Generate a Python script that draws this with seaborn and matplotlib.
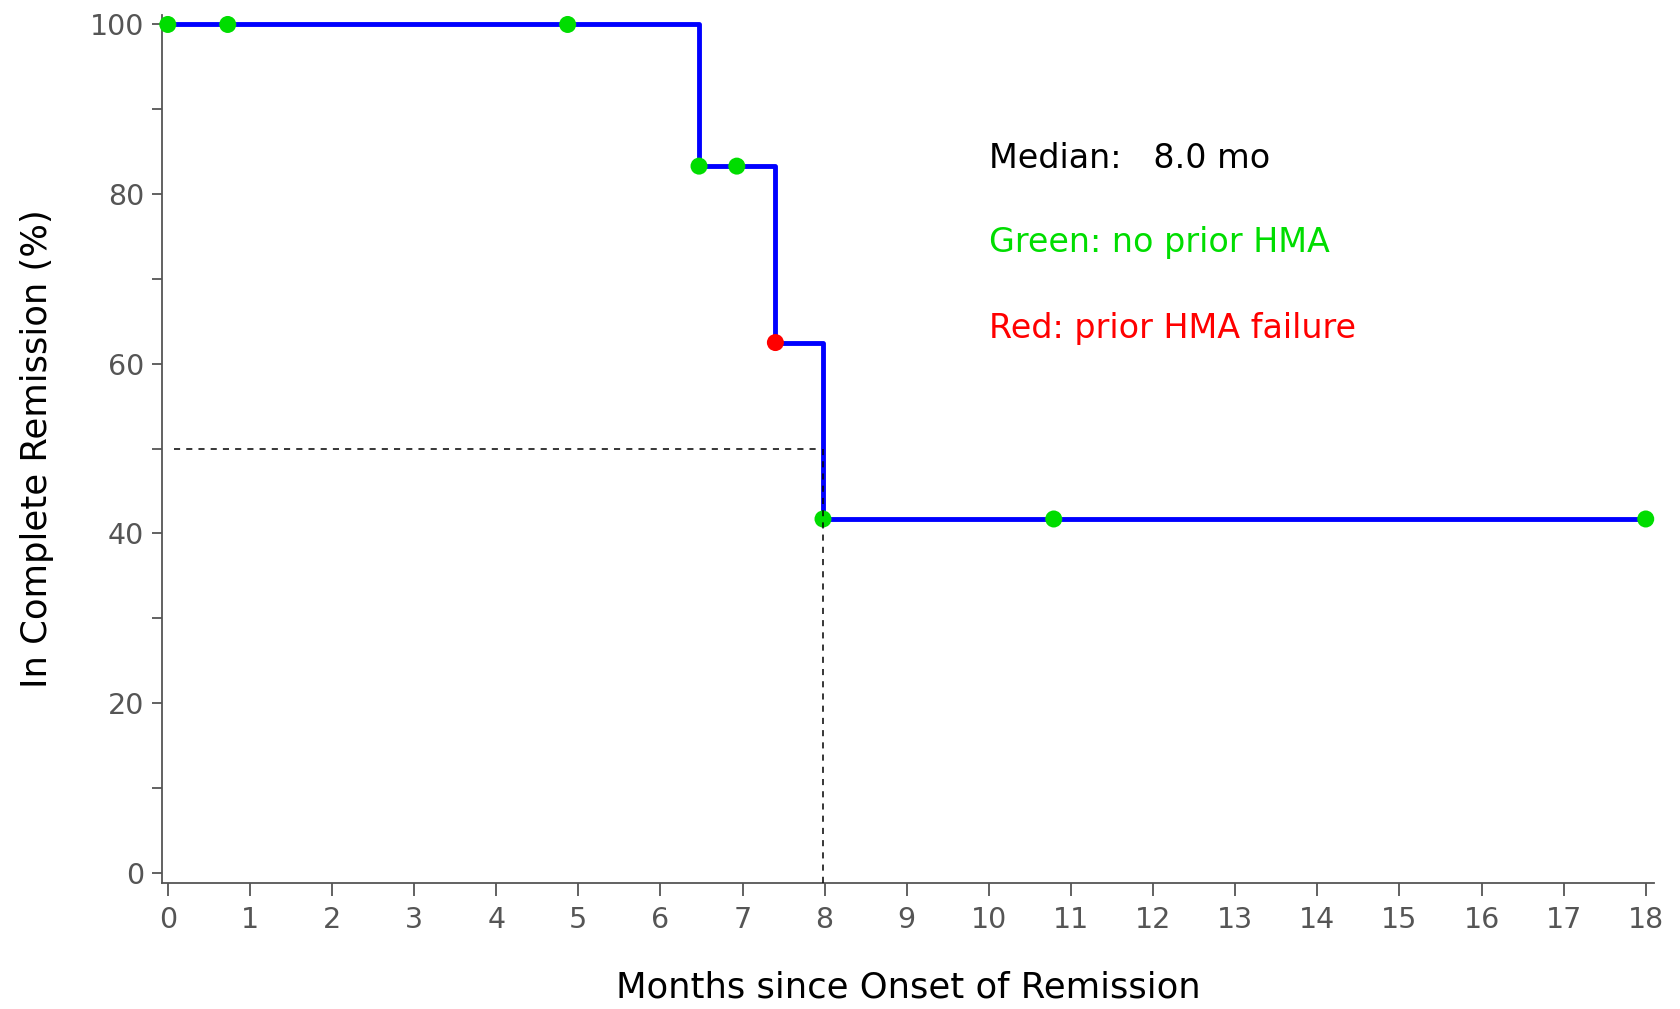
import numpy as np
import pandas as pd
import matplotlib
matplotlib.use('Agg')
import matplotlib.pyplot as plt
import seaborn as sns
from matplotlib.ticker import MultipleLocator

# Kaplan-Meier step curve
step_months = [0, 6.47, 7.40, 7.98, 18.0]
step_pct = [100, 83.3, 62.5, 41.7, 41.7]

# censored observations (marks on the curve)
cens_months = [0, 0.73, 4.87, 6.47, 6.93, 7.40, 7.98, 10.79, 18.0]
cens_pct = [100, 100, 100, 83.3, 83.3, 62.5, 41.7, 41.7, 41.7]
cens_group = ['no prior HMA'] * 5 + ['prior HMA failure'] + ['no prior HMA'] * 3

median_month = 7.98
x_ticks = list(range(0, 19))
y_ticks = [0, 20, 40, 60, 80, 100]

sns.set_style('white')
plt.rcParams['font.family'] = ['DejaVu Sans']

df_step = pd.DataFrame({'Months': step_months, 'Pct': step_pct})
df_cens = pd.DataFrame({'Months': cens_months, 'Pct': cens_pct, 'Group': cens_group})

fig = plt.figure(figsize=(16.81, 10.09), dpi=100)
ax = fig.add_axes([0.0964, 0.125, 0.8875, 0.86])

# median reference lines
ax.plot([0.07, median_month], [50, 50], color='black', lw=1.1, ls=(0, (4, 4)), zorder=1)
ax.plot([median_month, median_month], [50, -1.2], color='black', lw=1.1, ls=(0, (4, 4)), zorder=4)

sns.lineplot(data=df_step, x='Months', y='Pct', drawstyle='steps-post',
             color='#0000ff', linewidth=3.5, ax=ax, zorder=2)
sns.scatterplot(data=df_cens, x='Months', y='Pct', hue='Group',
                palette={'no prior HMA': '#00dd00', 'prior HMA failure': '#ff0000'},
                s=150, edgecolor='none', legend=False, ax=ax, zorder=3, clip_on=False)

ax.set_xlim(-0.07, 18.1)
ax.set_ylim(-1.2, 101.1)
ax.set_xticks(x_ticks)
ax.set_yticks(y_ticks)
ax.yaxis.set_minor_locator(MultipleLocator(10))

for s in ['top', 'right']:
    ax.spines[s].set_visible(False)
for s in ['left', 'bottom']:
    ax.spines[s].set_color('#555555')
    ax.spines[s].set_linewidth(1.3)

ax.tick_params(axis='both', which='both', direction='out', color='#555555',
               width=1.3, labelcolor='#555555', labelsize=20.5, pad=6)
ax.tick_params(axis='x', which='major', length=9, left=True, bottom=True)
ax.tick_params(axis='y', which='both', length=7, left=True)
ax.tick_params(axis='x', pad=8)

ax.set_xlabel('Months since Onset of Remission', fontsize=25.5, color='black', labelpad=26)
ax.set_ylabel('In Complete Remission (%)', fontsize=25.5, color='black', labelpad=26)

ax.text(10.0, 84.2, 'Median:   8.0 mo', fontsize=24, color='black', va='center')
ax.text(10.0, 74.3, 'Green: no prior HMA', fontsize=24, color='#00dd00', va='center')
ax.text(10.0, 64.1, 'Red: prior HMA failure', fontsize=24, color='#ff0000', va='center')

fig.savefig('out.png', dpi=100)
